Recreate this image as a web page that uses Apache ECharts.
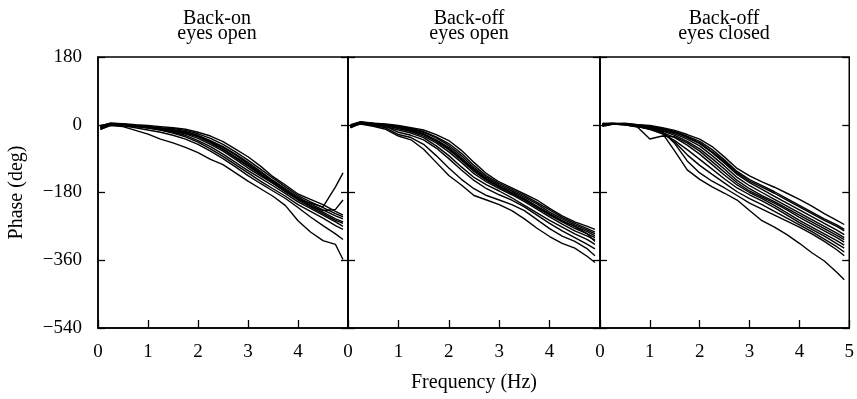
<!DOCTYPE html>
<html>
<head>
<meta charset="utf-8">
<script src="https://cdn.jsdelivr.net/npm/echarts@6/dist/echarts.min.js"></script>
<style>
html,body{margin:0;padding:0;background:#fff;}
#chart{width:857px;height:399px;}
</style>
</head>
<body>
<div id="chart"></div>
<script>
// Frequency samples (Hz)
const freq = [0.05,0.25,0.5,0.75,1,1.25,1.5,1.75,2,2.25,2.5,2.75,3,3.25,3.5,3.75,4,4.25,4.5,4.75,4.9];

// Panel titles and axis texts
const panelTitles = ['Back-on\neyes open', 'Back-off\neyes open', 'Back-off\neyes closed'];
const xAxisTitle = 'Frequency (Hz)';
const yAxisTitle = 'Phase (deg)';
const yTicks = [-540, -360, -180, 0, 180];
const xTicks = [0, 1, 2, 3, 4, 5];

// Back-on, eyes open (phase, deg)
const onOpen1  = [-4, 4, 3, 0, -2, -5, -8, -12, -20, -30, -45, -65, -85, -110, -138, -160, -184, -198, -212, -230, -240];
const onOpen2  = [-8, 2, 0, -3, -5, -8, -10, -15, -24, -36, -52, -72, -94, -118, -142, -165, -188, -205, -220, -236, -245];
const onOpen3  = [-2, 3, 1, -2, -5, -9, -13, -18, -28, -42, -58, -78, -100, -124, -148, -170, -192, -210, -226, -242, -250];
const onOpen4  = [-10, 1, -1, -4, -7, -10, -15, -20, -30, -46, -64, -85, -108, -130, -152, -175, -197, -215, -232, -250, -258];
const onOpen5  = [-6, 2, 0, -3, -7, -12, -18, -24, -36, -52, -70, -92, -115, -136, -156, -178, -200, -218, -236, -254, -262];
const onOpen6  = [-12, 0, -2, -5, -9, -14, -20, -28, -42, -58, -78, -100, -122, -142, -162, -183, -205, -222, -240, -258, -270];
const onOpen7  = [-5, 3, 1, -3, -8, -14, -22, -32, -46, -64, -84, -106, -128, -150, -170, -190, -212, -230, -248, -268, -278];
const onOpen8  = [-7, 2, -1, -4, -8, -12, -16, -22, -32, -48, -66, -88, -110, -132, -155, -178, -198, -208, -218, -165, -128];
const onOpen9  = [-3, 4, 2, -2, -6, -10, -14, -20, -30, -44, -60, -80, -104, -128, -150, -172, -195, -215, -228, -225, -200];
const onOpen10 = [-9, -1, -3, -8, -14, -20, -28, -38, -52, -70, -90, -112, -135, -156, -176, -196, -220, -245, -268, -290, -305];
const onOpen11 = [-12, -2, -5, -15, -25, -38, -48, -60, -74, -92, -106, -128, -150, -170, -190, -215, -255, -285, -308, -318, -358];

// Back-off, eyes open
const offOpen1  = [0, 8, 4, 2, -2, -8, -14, -26, -42, -68, -100, -130, -152, -168, -184, -200, -222, -242, -258, -270, -278];
const offOpen2  = [-3, 6, 3, 0, -4, -10, -18, -32, -50, -76, -108, -136, -156, -172, -188, -206, -226, -246, -262, -276, -285];
const offOpen3  = [-6, 5, 2, -1, -5, -12, -20, -35, -55, -82, -114, -140, -160, -176, -192, -210, -232, -250, -266, -280, -290];
const offOpen4  = [-2, 7, 4, 0, -6, -14, -24, -40, -60, -88, -118, -144, -163, -180, -196, -216, -236, -255, -270, -284, -295];
const offOpen5  = [-8, 4, 1, -2, -8, -16, -26, -44, -66, -94, -124, -148, -166, -183, -200, -220, -240, -258, -275, -290, -300];
const offOpen6  = [-4, 6, 2, -3, -10, -18, -30, -48, -72, -100, -130, -152, -170, -186, -204, -224, -245, -264, -282, -296, -306];
const offOpen7  = [-7, 5, 3, -1, -7, -14, -25, -42, -64, -92, -120, -145, -165, -182, -198, -218, -238, -256, -270, -290, -310];
const offOpen8  = [-5, 4, 0, -5, -14, -22, -34, -56, -82, -112, -140, -160, -176, -194, -214, -234, -254, -272, -290, -305, -318];
const offOpen9  = [-3, 6, 2, -4, -20, -28, -40, -62, -90, -120, -148, -170, -186, -200, -218, -240, -262, -282, -300, -318, -330];
const offOpen10 = [-6, 3, -2, -8, -26, -34, -52, -82, -115, -145, -170, -188, -200, -212, -228, -252, -276, -296, -310, -330, -348];
const offOpen11 = [-5, 2, -4, -12, -30, -40, -65, -100, -135, -160, -188, -200, -212, -228, -250, -275, -297, -315, -328, -350, -366];

// Back-off, eyes closed
const offClosed1  = [4, 2, 4, 0, -2, -8, -15, -26, -38, -58, -86, -116, -136, -152, -166, -182, -198, -216, -236, -254, -265];
const offClosed2  = [0, 3, 2, -2, -4, -10, -18, -30, -44, -66, -94, -124, -146, -162, -178, -196, -214, -232, -250, -266, -278];
const offClosed3  = [-4, 1, 2, -3, -6, -12, -20, -34, -50, -74, -102, -132, -154, -172, -190, -208, -226, -244, -262, -280, -292];
const offClosed4  = [2, 4, 3, -1, -5, -14, -24, -38, -56, -82, -110, -140, -162, -180, -198, -216, -234, -252, -270, -288, -300];
const offClosed5  = [-2, 2, 1, -4, -8, -16, -28, -44, -64, -90, -118, -148, -170, -188, -204, -222, -240, -258, -276, -294, -305];
const offClosed6  = [0, 3, 0, -6, -38, -30, -32, -48, -70, -98, -126, -154, -176, -192, -208, -226, -246, -264, -282, -300, -312];
const offClosed7  = [-3, 2, 2, -3, -10, -20, -34, -54, -78, -106, -134, -160, -180, -196, -214, -234, -254, -272, -290, -308, -320];
const offClosed8  = [3, 4, 1, -4, -12, -24, -42, -66, -92, -118, -144, -168, -186, -202, -220, -240, -260, -278, -296, -316, -328];
const offClosed9  = [-1, 2, 0, -5, -10, -20, -46, -80, -108, -132, -155, -178, -196, -212, -230, -248, -266, -284, -304, -324, -338];
const offClosed10 = [1, 3, 2, -2, -8, -18, -50, -96, -128, -150, -168, -188, -208, -224, -240, -256, -272, -290, -310, -332, -348];
const offClosed11 = [0, 2, 0, -5, -12, -22, -70, -120, -145, -165, -182, -200, -228, -255, -272, -292, -315, -340, -362, -392, -412];
const offClosed12 = [-2, 3, 3, 0, -4, -12, -20, -32, -48, -72, -98, -128, -150, -166, -182, -200, -218, -236, -254, -270, -282];

const panelCurves = [
  [onOpen1, onOpen2, onOpen3, onOpen4, onOpen5, onOpen6, onOpen7, onOpen8, onOpen9, onOpen10, onOpen11],
  [offOpen1, offOpen2, offOpen3, offOpen4, offOpen5, offOpen6, offOpen7, offOpen8, offOpen9, offOpen10, offOpen11],
  [offClosed1, offClosed2, offClosed3, offClosed4, offClosed5, offClosed6, offClosed7, offClosed8, offClosed9, offClosed10, offClosed11, offClosed12]
];

const FONT = '"Liberation Serif", "Times New Roman", serif';
const gridLefts = [98, 348, 600];
const gridWidths = [250, 252, 251];
const titleCenters = [217, 469, 724];

function minusFmt(v) { return v < 0 ? '\u2212' + Math.abs(v) : String(v); }

const grids = [], xAxes = [], yAxes = [], series = [], titles = [];
for (let p = 0; p < 3; p++) {
  grids.push({ left: gridLefts[p], width: gridWidths[p], top: 57, height: 271,
    show: true, borderColor: '#000', borderWidth: 1.5, backgroundColor: 'transparent' });
  xAxes.push({
    type: 'value', gridIndex: p, min: xTicks[0], max: xTicks[xTicks.length - 1], interval: 1,
    position: 'bottom',
    axisLine: { show: true, onZero: false, lineStyle: { color: '#000', width: 1.5 } },
    axisTick: { show: true, inside: true, length: 8, lineStyle: { color: '#000', width: 1.3 } },
    axisLabel: { show: true, color: '#000', fontFamily: FONT, fontSize: 19, margin: 15,
      showMaxLabel: p === 2, showMinLabel: true },
    splitLine: { show: false },
    name: p === 1 ? xAxisTitle : '', nameLocation: 'middle', nameGap: 45,
    nameTextStyle: { color: '#000', fontFamily: FONT, fontSize: 20 }
  });
  yAxes.push({
    type: 'value', gridIndex: p, min: yTicks[0], max: yTicks[yTicks.length - 1], interval: 180,
    position: 'left',
    axisLine: { show: true, onZero: false, lineStyle: { color: '#000', width: 1.5 } },
    axisTick: { show: true, inside: true, length: 7, lineStyle: { color: '#000', width: 1.3 } },
    axisLabel: { show: p === 0, color: '#000', fontFamily: FONT, fontSize: 19, margin: 16, formatter: minusFmt },
    splitLine: { show: false },
    name: p === 0 ? yAxisTitle : '', nameLocation: 'middle', nameGap: 71,
    nameTextStyle: { color: '#000', fontFamily: FONT, fontSize: 20 }
  });
  yAxes.push({
    type: 'value', gridIndex: p, min: yTicks[0], max: yTicks[yTicks.length - 1], interval: 180,
    position: 'right',
    axisLine: { show: false, onZero: false },
    axisTick: { show: true, inside: true, length: 7, lineStyle: { color: '#000', width: 1.3 } },
    axisLabel: { show: false },
    splitLine: { show: false }
  });
  titles.push({
    text: panelTitles[p], left: titleCenters[p], top: 11, textAlign: 'center', padding: 0,
    textStyle: { color: '#000', fontFamily: FONT, fontSize: 20, fontWeight: 'normal', lineHeight: 15 }
  });
  panelCurves[p].forEach(function (vals) {
    series.push({
      type: 'line', xAxisIndex: p, yAxisIndex: p * 2, showSymbol: false, symbol: 'none',
      silent: true, animation: false, clip: false,
      lineStyle: { color: '#000', width: 1.4 },
      data: freq.map(function (f, i) { return [f, vals[i]]; })
    });
  });
}

const chart = echarts.init(document.getElementById('chart'), null, { renderer: 'canvas' });
chart.setOption({
  animation: false,
  backgroundColor: '#fff',
  textStyle: { fontFamily: FONT },
  title: titles,
  grid: grids,
  xAxis: xAxes,
  yAxis: yAxes,
  series: series
});
</script>
</body>
</html>
